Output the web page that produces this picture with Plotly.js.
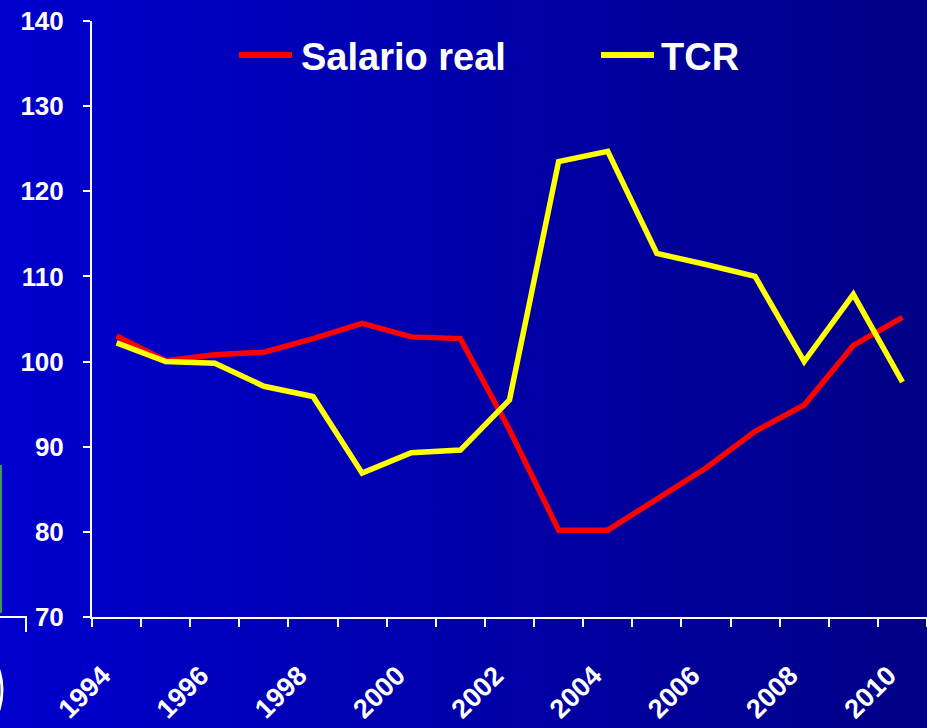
<!DOCTYPE html>
<html>
<head>
<meta charset="utf-8">
<script src="https://cdn.plot.ly/plotly-3.0.1.min.js"></script>
<style>
  html, body { margin: 0; padding: 0; }
  body { width: 927px; height: 728px; background: linear-gradient(to right, #0000CE 0%, #0000AA 50%, #000086 100%); overflow: hidden; }
  #chart { width: 927px; height: 728px; }
</style>
</head>
<body>
<div id="chart"></div>
<script>
// ---- data ----
const years = [1994, 1995, 1996, 1997, 1998, 1999, 2000, 2001, 2002, 2003, 2004, 2005, 2006, 2007, 2008, 2009, 2010];
const salarioReal = [103.0, 100.1, 100.8, 101.1, 102.7, 104.5, 102.9, 102.7, 92.0, 80.2, 80.2, 83.8, 87.5, 91.8, 94.9, 101.9, 105.2];
const tcr = [102.2, 100.0, 99.8, 97.1, 95.9, 86.9, 89.3, 89.6, 95.5, 123.5, 124.7, 112.7, 111.4, 110.0, 100.0, 107.9, 97.6];
const tickYears = [1994, 1996, 1998, 2000, 2002, 2004, 2006, 2008, 2010];
const seriesNames = ['Salario real', 'TCR'];
const seriesColors = ['#FF0000', '#FFFF00'];

// category boundaries for tick marks
const boundaries = years.map(y => y - 0.5).concat([years[years.length - 1] + 0.5]);

const W = 927, H = 728;
const M = {l: 92, r: 0, t: 21, b: 111};
const PW = W - M.l - M.r, PH = H - M.t - M.b;
const px = x => (x - M.l) / PW;       // pixel -> paper x
const py = y => (H - M.b - y) / PH;   // pixel -> paper y

const tickFont = {family: 'Liberation Sans, Arial, sans-serif', size: 26, color: '#FFFFFF', weight: 'bold'};
const xTickFont = {family: 'Liberation Sans, Arial, sans-serif', size: 27, color: '#FFFFFF', weight: 'bold'};
const legendFont = {family: 'Liberation Sans, Arial, sans-serif', size: 38, color: '#FFFFFF', weight: 'bold'};

const traces = [
  {x: years, y: salarioReal, name: seriesNames[0], type: 'scatter', mode: 'lines',
   line: {color: seriesColors[0], width: 5.5}},
  {x: years, y: tcr, name: seriesNames[1], type: 'scatter', mode: 'lines',
   line: {color: seriesColors[1], width: 5.5}}
];

// custom legend (long line symbols)
const legendItems = [
  {x0: 239, x1: 292, tx: 299},
  {x0: 601, x1: 654, tx: 659}
];
const shapes = [];
const annotations = [];
legendItems.forEach((it, i) => {
  shapes.push({type: 'line', xref: 'paper', yref: 'paper', x0: px(it.x0), x1: px(it.x1), y0: py(55), y1: py(55),
               line: {color: seriesColors[i], width: 6}});
  annotations.push({xref: 'paper', yref: 'paper', x: px(it.tx), y: py(57), xanchor: 'left', yanchor: 'middle',
                    text: seriesNames[i], showarrow: false, font: legendFont});
});

// stray slide artifacts at the left edge
shapes.push({type: 'line', xref: 'paper', yref: 'paper', x0: px(1), x1: px(1), y0: py(465), y1: py(613),
             line: {color: '#3A9A5A', width: 2}});
shapes.push({type: 'path', xref: 'paper', yref: 'paper',
             path: 'M ' + px(-2) + ' ' + py(617) + ' L ' + px(26) + ' ' + py(617) + ' L ' + px(26) + ' ' + py(632),
             line: {color: '#FFFFFF', width: 2}});
shapes.push({type: 'path', xref: 'paper', yref: 'paper',
             path: 'M ' + px(-1) + ' ' + py(670) + ' Q ' + px(5) + ' ' + py(690) + ' ' + px(-1) + ' ' + py(710),
             line: {color: '#FFFFFF', width: 3}});

const layout = {
  width: W, height: H,
  margin: M,
  paper_bgcolor: 'rgba(0,0,0,0)',
  plot_bgcolor: 'rgba(0,0,0,0)',
  showlegend: false,
  xaxis: {
    range: [years[0] - 0.5, years[years.length - 1] + 0.5],
    tickmode: 'array', tickvals: tickYears, ticktext: tickYears.map(String),
    ticks: '', tickangle: -45, tickfont: xTickFont,
    ticklabelstandoff: 30, ticklabelshift: -14,
    showgrid: false, zeroline: false,
    showline: true, linecolor: '#FFFFFF', linewidth: 2,
    minor: {tickmode: 'array', tickvals: boundaries, ticks: 'outside', ticklen: 8, tickwidth: 2, tickcolor: '#FFFFFF', showgrid: false}
  },
  yaxis: {
    range: [70, 140], dtick: 10, tick0: 70,
    ticks: 'outside', ticklen: 7, tickwidth: 2, tickcolor: '#FFFFFF',
    tickfont: tickFont, ticklabelstandoff: 14,
    showgrid: false, zeroline: false,
    showline: true, linecolor: '#FFFFFF', linewidth: 2
  },
  shapes: shapes,
  annotations: annotations
};

Plotly.newPlot('chart', traces, layout, {displayModeBar: false, staticPlot: true});
</script>
</body>
</html>
